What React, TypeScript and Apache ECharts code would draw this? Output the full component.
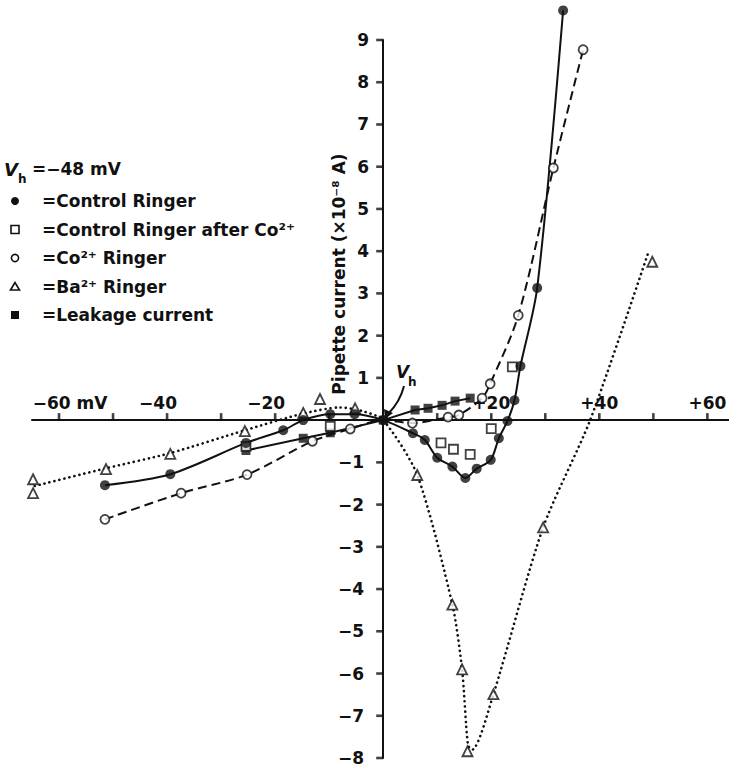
import React, { useEffect, useRef } from "react";
import * as echarts from "echarts";

// ---- axis values ----
const xMin = -65;
const xMax = 64;
const xTickValues = [-60, -50, -40, -30, -20, -10, 10, 20, 30, 40, 50, 60];
const xLabelValues = [-60, -40, -20, 20, 40, 60];
const yMin = -8;
const yMax = 9;
const yTickValues = [-8, -7, -6, -5, -4, -3, -2, -1, 1, 2, 3, 4, 5, 6, 7, 8, 9];

// ---- Control Ringer (filled circles, solid curve) ----
const controlV = [-51.5, -39.4, -25.4, -18.5, -14.8, -9.8, -5.3, 0, 5.5, 7.7, 10, 12.8, 15.2, 17.3, 19.9, 21.4, 23, 24.3, 25.4, 28.5, 33.3];
const controlI = [-1.54, -1.28, -0.54, -0.24, 0, 0.14, 0.14, 0, -0.31, -0.47, -0.89, -1.1, -1.37, -1.15, -0.94, -0.43, -0.02, 0.47, 1.28, 3.13, 9.7];

// ---- Control Ringer after Co2+ (open squares, no curve) ----
const afterCoV = [-25.4, -9.8, 10.7, 13, 16.1, 20, 23.9];
const afterCoI = [-0.62, -0.15, -0.54, -0.69, -0.81, -0.2, 1.26];

// ---- Co2+ Ringer (open circles, dashed curve) ----
const coV = [-51.5, -37.4, -25.2, -13.1, -6.1, 0, 5.4, 12, 14, 18.3, 19.8, 25, 31.5, 37];
const coI = [-2.35, -1.73, -1.29, -0.5, -0.21, 0, -0.07, 0.07, 0.12, 0.52, 0.86, 2.48, 5.97, 8.77];

// ---- Ba2+ Ringer (triangles, dotted curve) ----
const baV = [-64.8, -64.8, -51.3, -39.4, -25.6, -14.8, -11.7, -5.2, 6.3, 12.8, 14.6, 15.6, 20.4, 29.6, 49.8];
const baI = [-1.4, -1.73, -1.16, -0.8, -0.26, 0.17, 0.5, 0.28, -1.3, -4.37, -5.9, -7.84, -6.49, -2.54, 3.75];
const baCurveV = [-64.5, -51.3, -39.4, -25.6, -15, -8, -4, 0, 6.3, 12.8, 14.6, 15.7, 16.5, 20.4, 29.6, 38.3, 49.2];
const baCurveI = [-1.56, -1.14, -0.78, -0.24, 0.15, 0.3, 0.22, 0, -1.3, -4.37, -5.9, -7.7, -7.8, -6.49, -2.54, 0, 4.02];

// ---- Leakage current (filled squares, solid line) ----
const leakV = [-25.4, -14.8, -9.8, 0, 5.9, 8.3, 10.9, 13.3, 16.1];
const leakI = [-0.72, -0.43, -0.3, 0, 0.24, 0.28, 0.35, 0.45, 0.52];

// ---- texts ----
const holdingLabel = "=−48 mV";
const legendLabels = [
  "=Control Ringer",
  "=Control Ringer after Co²⁺",
  "=Co²⁺ Ringer",
  "=Ba²⁺ Ringer",
  "=Leakage current",
];
const yTitle = "Pipette current (×10⁻⁸ A)";

const INK = "#111";
const FONT = "'DejaVu Sans', sans-serif";

const W = 729;
const H = 770;
const GRID = { left: 32, right: 0, top: 40, bottom: 12 };
const TICK = 7;
const TICK_W = 2.6;

const zip = (xs: number[], ys: number[]) => xs.map((x, i) => [x, ys[i]]);
const noOrigin = (pts: number[][]) => pts.filter((p) => !(p[0] === 0 && p[1] === 0));

export default function App() {
  const ref = useRef<HTMLDivElement>(null);

  useEffect(() => {
    if (!ref.current) return;
    const chart = echarts.init(ref.current, undefined, { renderer: "svg" });

    const gridW = W - GRID.left - GRID.right;
    const gridH = H - GRID.top - GRID.bottom;
    // axes cross at (0, 0): shift them from the grid edges
    const yAxisOffset = -((0 - xMin) / (xMax - xMin)) * gridW;
    const xAxisOffset = -((0 - yMin) / (yMax - yMin)) * gridH;

    const lineBase = {
      type: "line",
      showSymbol: false,
      symbol: "none",
      smooth: 0.3,
      silent: true,
      clip: false,
      z: 2,
    };
    const openStyle = { color: "#fff", borderColor: INK, borderWidth: 1.8 };

    const legendRowY = [201, 229.5, 258, 286.5, 315];
    const legendMarkers: any[] = [
      { type: "circle", shape: { cx: 15, cy: legendRowY[0], r: 4 }, style: { fill: INK } },
      { type: "rect", shape: { x: 11, y: legendRowY[1] - 4, width: 8, height: 8 }, style: { fill: "#fff", stroke: INK, lineWidth: 1.6 } },
      { type: "circle", shape: { cx: 15, cy: legendRowY[2], r: 3.6 }, style: { fill: "#fff", stroke: INK, lineWidth: 1.6 } },
      { type: "polygon", shape: { points: [[15, legendRowY[3] - 4], [10.5, legendRowY[3] + 3.5], [19.5, legendRowY[3] + 3.5]] }, style: { fill: "#fff", stroke: INK, lineWidth: 1.6 } },
      { type: "rect", shape: { x: 11, y: legendRowY[4] - 4, width: 8, height: 8 }, style: { fill: INK } },
    ];
    const legendTexts = legendLabels.map((t, i) => ({
      type: "text",
      x: 42,
      y: legendRowY[i],
      style: { text: t, fill: INK, fontFamily: FONT, fontWeight: "bold", fontSize: 17, align: "left", verticalAlign: "middle" },
    }));

    const option: any = {
      animation: false,
      grid: { ...GRID, containLabel: false, outerBoundsMode: "none" },
      xAxis: {
        type: "value",
        min: xMin,
        max: xMax,
        position: "bottom",
        offset: xAxisOffset,
        splitLine: { show: false },
        axisLine: { show: true, onZero: false, lineStyle: { color: INK, width: 2 } },
        axisTick: { show: false },
        axisLabel: {
          inside: true,
          margin: 9,
          customValues: xLabelValues,
          color: INK,
          fontFamily: FONT,
          fontWeight: "bold",
          fontSize: 17,
          formatter: (v: number) => {
            if (v === -60) return "{m|−60 mV}";
            if (v < 0) return "{n|−" + -v + "}";
            return "{p|+" + v + "}";
          },
          rich: {
            m: { fontFamily: FONT, fontWeight: "bold", fontSize: 17, color: INK, padding: [0, 0, 0, 22] },
            n: { fontFamily: FONT, fontWeight: "bold", fontSize: 17, color: INK, padding: [0, 18, 0, 0] },
            p: { fontFamily: FONT, fontWeight: "bold", fontSize: 17, color: INK },
          },
        },
      },
      yAxis: {
        type: "value",
        min: yMin,
        max: yMax,
        interval: 1,
        position: "left",
        offset: yAxisOffset,
        splitLine: { show: false },
        axisLine: { show: true, onZero: false, lineStyle: { color: INK, width: 2 } },
        axisTick: { show: false },
        axisLabel: {
          margin: 14,
          color: INK,
          fontFamily: FONT,
          fontWeight: "bold",
          fontSize: 17,
          formatter: (v: number) => {
            if (v === 0) return "";
            if (v < 0) return "{n|−" + -v + "}";
            return "{p|" + v + "}";
          },
          rich: {
            n: { fontFamily: FONT, fontWeight: "bold", fontSize: 17, color: INK, padding: [0, 5, 0, 0] },
            p: { fontFamily: FONT, fontWeight: "bold", fontSize: 17, color: INK },
          },
        },
      },
      series: [
        // axis ticks: small bar symbols placed at tick values through the axes' scales
        {
          type: "scatter",
          name: "x ticks",
          silent: true,
          clip: false,
          z: 3,
          symbol: "rect",
          symbolSize: [TICK_W, TICK],
          symbolOffset: [0, -TICK / 2],
          itemStyle: { color: INK },
          data: xTickValues.map((v) => [v, 0]),
        },
        {
          type: "scatter",
          name: "y ticks",
          silent: true,
          clip: false,
          z: 3,
          symbol: "rect",
          symbolSize: [TICK, TICK_W],
          symbolOffset: [-TICK / 2, 0],
          itemStyle: { color: INK },
          data: yTickValues.map((v) => [0, v]),
        },
        { ...lineBase, name: "Control Ringer curve", data: zip(controlV, controlI), lineStyle: { color: INK, width: 2 } },
        { ...lineBase, name: "Co²⁺ Ringer curve", data: zip(coV, coI), lineStyle: { color: INK, width: 2, type: [9, 5] } },
        { ...lineBase, name: "Ba²⁺ Ringer curve", smooth: 0.25, data: zip(baCurveV, baCurveI), lineStyle: { color: INK, width: 2.6, type: [0.1, 5], cap: "round" } },
        { ...lineBase, name: "Leakage current curve", smooth: false, data: zip(leakV, leakI), lineStyle: { color: INK, width: 2 } },
        { type: "scatter", name: "Ba²⁺ Ringer", z: 4, clip: false, symbol: "triangle", symbolSize: 10, data: zip(baV, baI), itemStyle: openStyle },
        { type: "scatter", name: "Leakage current", z: 5, clip: false, symbol: "rect", symbolSize: 9, data: zip(leakV, leakI), itemStyle: { color: INK } },
        { type: "scatter", name: "Control Ringer after Co²⁺", z: 6, clip: false, symbol: "rect", symbolSize: 9, data: zip(afterCoV, afterCoI), itemStyle: openStyle },
        { type: "scatter", name: "Co²⁺ Ringer", z: 6, clip: false, symbol: "circle", symbolSize: 9, data: noOrigin(zip(coV, coI)), itemStyle: openStyle },
        { type: "scatter", name: "Control Ringer", z: 7, clip: false, symbol: "circle", symbolSize: 10, data: zip(controlV, controlI), itemStyle: { color: INK } },
      ],
      graphic: [
        // y-axis title
        {
          type: "text",
          x: 339,
          y: 274,
          rotation: Math.PI / 2,
          style: { text: yTitle, fill: INK, fontFamily: FONT, fontWeight: "bold", fontSize: 17, align: "center", verticalAlign: "middle" },
        },
        // holding potential line of legend
        { type: "text", x: 4, y: 169, style: { text: "V", fill: INK, fontFamily: FONT, fontStyle: "italic", fontWeight: "bold", fontSize: 18, align: "left", verticalAlign: "middle" } },
        { type: "text", x: 18, y: 179, style: { text: "h", fill: INK, fontFamily: FONT, fontWeight: "bold", fontSize: 12, align: "left", verticalAlign: "middle" } },
        { type: "text", x: 32, y: 169, style: { text: holdingLabel, fill: INK, fontFamily: FONT, fontWeight: "bold", fontSize: 17, align: "left", verticalAlign: "middle" } },
        ...legendMarkers,
        ...legendTexts,
        // Vh annotation with arrow at origin
        { type: "text", x: 396, y: 372, style: { text: "V", fill: INK, fontFamily: FONT, fontStyle: "italic", fontWeight: "bold", fontSize: 17, align: "left", verticalAlign: "middle" } },
        { type: "text", x: 408, y: 382, style: { text: "h", fill: INK, fontFamily: FONT, fontWeight: "bold", fontSize: 12, align: "left", verticalAlign: "middle" } },
        { type: "bezierCurve", shape: { x1: 404, y1: 386, x2: 388, y2: 414, cpx1: 400, cpy1: 402 }, style: { stroke: INK, lineWidth: 2, fill: null } },
        { type: "polygon", shape: { points: [[385, 419], [384, 409], [393, 413]] }, style: { fill: INK } },
      ],
    };

    chart.setOption(option);
    return () => chart.dispose();
  }, []);

  return (
    <div
      ref={ref}
      style={{ position: "fixed", left: 0, top: 0, width: W, height: H, background: "#fff" }}
    />
  );
}
